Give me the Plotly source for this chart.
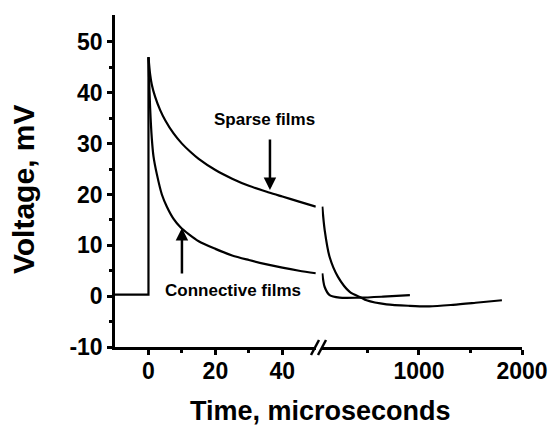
import plotly.graph_objects as go

# Pre-pulse baseline and the step at t = 0 (microseconds, mV)
base_t = [-10, 0, 0]
base_v = [0.3, 0.3, 47]

# Early decay, 0-50 microseconds
sparse_t_early = [0, 0.5, 1, 2, 3.5, 5, 7.5, 10, 12.5, 15, 20, 25, 30, 36, 40, 45, 50]
sparse_v_early = [47, 43.6, 41.6, 39.2, 36.6, 34.6, 32.0, 30.0, 28.4, 27.0, 24.8, 23.1, 21.7, 20.4, 19.6, 18.6, 17.6]

conn_t_early = [0, 0.5, 1, 1.5, 2.5, 4, 5.5, 7.5, 9.5, 12, 15, 20, 25, 30, 35, 40, 45, 50]
conn_v_early = [47, 37, 31, 27.5, 24, 20, 17.6, 15.2, 13.6, 12.2, 10.8, 9.3, 8.0, 7.1, 6.3, 5.6, 5.0, 4.5]

# Late relaxation, beyond the axis break
sparse_t_late = [62, 85, 133, 214, 328, 440, 491, 685, 912, 1100, 1331, 1550, 1805]
sparse_v_late = [17.6, 13, 7.7, 3.8, 0.85, -0.3, -0.8, -1.6, -1.9, -2.0, -1.7, -1.3, -0.8]

conn_t_late = [62, 85, 133, 230, 425, 652, 912]
conn_v_late = [4.5, 1.8, 0.2, -0.3, -0.3, -0.1, 0.2]

x_ticks_early = [0, 20, 40]
x_ticks_late = [1000, 2000]
y_ticks = [-10, 0, 10, 20, 30, 40, 50]

FONT = "Liberation Sans, Arial, sans-serif"
line = dict(color="black", width=2.2)
curve = dict(line, shape="spline", smoothing=0.8)

fig = go.Figure()
fig.add_trace(go.Scatter(x=base_t, y=base_v, mode="lines", line=line, xaxis="x", yaxis="y"))
fig.add_trace(go.Scatter(x=sparse_t_early, y=sparse_v_early, mode="lines",
                         line=curve, xaxis="x", yaxis="y"))
fig.add_trace(go.Scatter(x=conn_t_early, y=conn_v_early, mode="lines",
                         line=curve, xaxis="x", yaxis="y"))
fig.add_trace(go.Scatter(x=sparse_t_late, y=sparse_v_late, mode="lines",
                         line=curve, xaxis="x2", yaxis="y"))
fig.add_trace(go.Scatter(x=conn_t_late, y=conn_v_late, mode="lines",
                         line=curve, xaxis="x2", yaxis="y"))

tickfont = dict(family=FONT, size=23, color="black", weight="bold")
axis_common = dict(showline=True, linecolor="black", linewidth=2.5, ticks="outside",
                   ticklen=5, tickwidth=2.5, tickcolor="black", showgrid=False,
                   zeroline=False, tickfont=tickfont, automargin=False)

fig.update_layout(
    width=553, height=425,
    margin=dict(l=115, r=31, t=15, b=78, autoexpand=False),
    plot_bgcolor="white", paper_bgcolor="white",
    showlegend=False,
    xaxis=dict(axis_common, domain=[0, 0.4934], range=[-10, 50], anchor="y",
               ticklabelstandoff=-3,
               tickvals=x_ticks_early, ticktext=[str(v) for v in x_ticks_early],
               minor=dict(tickvals=[10, 30], ticklen=3, tickwidth=2.5, tickcolor="black",
                          ticks="outside")),
    xaxis2=dict(axis_common, domain=[0.5076, 1], range=[55, 2000], anchor="y",
                ticklabelstandoff=-3,
                tickvals=x_ticks_late, ticktext=[str(v) for v in x_ticks_late],
                minor=dict(tickvals=[500, 1500], ticklen=3, tickwidth=2.5, tickcolor="black",
                           ticks="outside")),
    yaxis=dict(axis_common, range=[-10, 55.3], anchor="x",
               tickvals=y_ticks, ticktext=[str(v) for v in y_ticks],
               minor=dict(tickvals=[-5, 5, 15, 25, 35, 45], ticklen=3, tickwidth=2.5,
                          tickcolor="black", ticks="outside")),
)

# Axis break marks
for x0, x1 in [(311, 319), (318, 326)]:
    fig.add_shape(type="line", xref="paper", yref="paper",
                  x0=(x0 - 115) / 407, x1=(x1 - 115) / 407,
                  y0=(347 - 355) / 332, y1=(347 - 340) / 332,
                  line=dict(color="black", width=2.5))

label_font = dict(family=FONT, size=17, color="black", weight="bold")
fig.add_annotation(x=34.8, y=34.8, xref="x", yref="y", text="Sparse films",
                   showarrow=False, font=label_font)
fig.add_annotation(x=36.3, y=20.9, xref="x", yref="y", text="", showarrow=True,
                   ax=0, ay=-52, arrowhead=2, arrowsize=1, arrowwidth=2.5, arrowcolor="black")
fig.add_annotation(x=25.3, y=1.2, xref="x", yref="y", text="Connective films",
                   showarrow=False, font=label_font)
fig.add_annotation(x=10, y=13.4, xref="x", yref="y", text="", showarrow=True,
                   ax=0, ay=47, arrowhead=2, arrowsize=1, arrowwidth=2.5, arrowcolor="black")

title_font = dict(family=FONT, size=27, color="black", weight="bold")
fig.add_annotation(x=(320 - 115) / 407, y=(347 - 411) / 332, xref="paper", yref="paper",
                   text="Time, microseconds", showarrow=False, font=title_font,
                   xanchor="center", yanchor="middle")
fig.add_annotation(x=(23 - 115) / 407, y=(347 - 190) / 332, xref="paper", yref="paper",
                   text="Voltage, mV", showarrow=False, font=dict(title_font, size=30),
                   textangle=-90, xanchor="center", yanchor="middle")

fig.write_html("out.html")
